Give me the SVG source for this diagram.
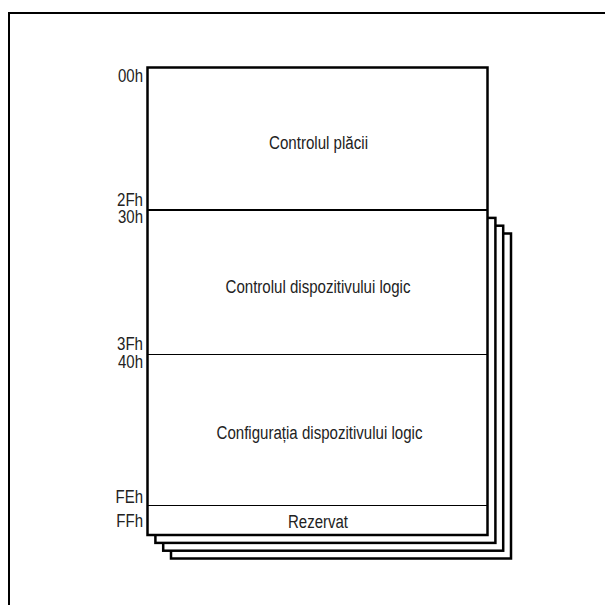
<svg xmlns="http://www.w3.org/2000/svg" width="605" height="605" viewBox="0 0 605 605">
<style>
text{font-family:"Liberation Sans",Arial,sans-serif;font-size:18px;fill:#222}
.lbl{text-anchor:end}
.ttl{text-anchor:middle}
.sheet{fill:#fff;stroke:#000;stroke-width:2.5}
.thin{stroke:#000;stroke-width:1;fill:none}
</style>
<rect width="605" height="605" fill="#fff"/>
<path d="M9,606 V13 H606" fill="none" stroke="#000" stroke-width="2"/>
<g id="sheets">
<rect class="sheet" x="171" y="233.5" width="340" height="325"/>
<rect class="sheet" x="163.2" y="225.7" width="340" height="325"/>
<rect class="sheet" x="155.4" y="217.9" width="340" height="325"/>
</g>
<g id="block">
<rect x="147.5" y="67.5" width="340" height="467.5" fill="#fff" stroke="#000" stroke-width="2.5"/>
<line x1="147.5" y1="210" x2="487.5" y2="210" stroke="#000" stroke-width="2"/>
<line class="thin" x1="147.5" y1="354.5" x2="487.5" y2="354.5"/>
<line class="thin" x1="147.5" y1="505.5" x2="487.5" y2="505.5"/>
</g>
<g id="node-placa"><text class="ttl" x="318.5" y="148.5" textLength="99" lengthAdjust="spacingAndGlyphs">Controlul plăcii</text></g>
<g id="node-control"><text class="ttl" x="318" y="292.5" textLength="185" lengthAdjust="spacingAndGlyphs">Controlul dispozitivului logic</text></g>
<g id="node-config"><text class="ttl" x="319.5" y="438.5" textLength="206" lengthAdjust="spacingAndGlyphs">Configurația dispozitivului logic</text></g>
<g id="node-rezervat"><text class="ttl" x="318" y="527.5" textLength="60" lengthAdjust="spacingAndGlyphs">Rezervat</text></g>
<g id="labels">
<text class="lbl" x="143" y="82" textLength="25" lengthAdjust="spacingAndGlyphs">00h</text>
<text class="lbl" x="143" y="206" textLength="26" lengthAdjust="spacingAndGlyphs">2Fh</text>
<text class="lbl" x="143" y="223" textLength="25" lengthAdjust="spacingAndGlyphs">30h</text>
<text class="lbl" x="143" y="350" textLength="26" lengthAdjust="spacingAndGlyphs">3Fh</text>
<text class="lbl" x="143" y="368" textLength="25" lengthAdjust="spacingAndGlyphs">40h</text>
<text class="lbl" x="143" y="503" textLength="27.5" lengthAdjust="spacingAndGlyphs">FEh</text>
<text class="lbl" x="143" y="527" textLength="26.7" lengthAdjust="spacingAndGlyphs">FFh</text>
</g>
<g id="connectors"></g>
</svg>
